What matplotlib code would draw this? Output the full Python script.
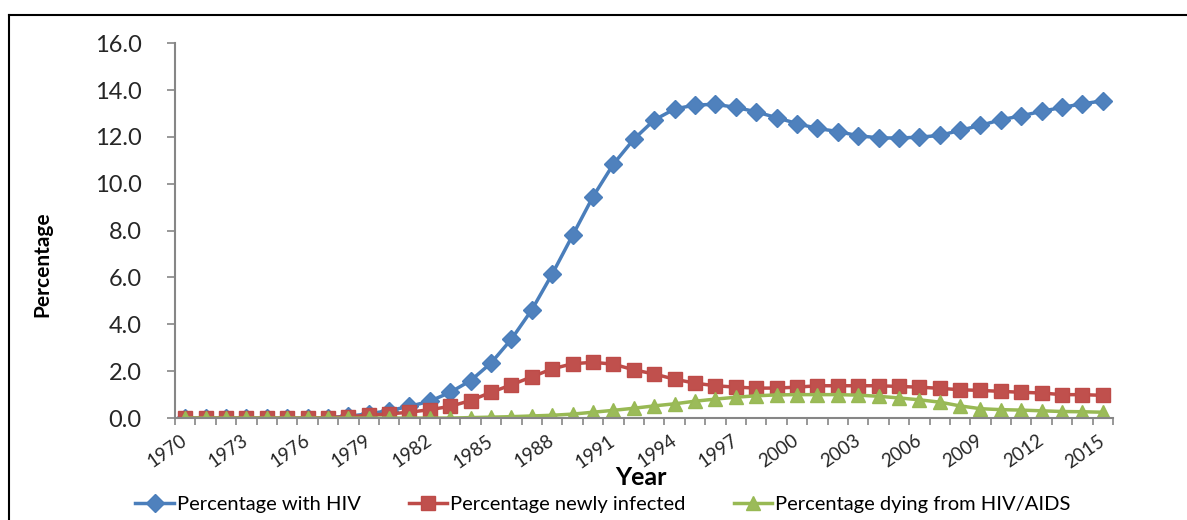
import numpy as np
import matplotlib
matplotlib.use("Agg")
import matplotlib.pyplot as plt
from matplotlib.lines import Line2D

plt.rcParams['font.family'] = ['Lato', 'DejaVu Sans']

years = list(range(1970, 2016))

# percentage of population with HIV
hiv = [0.0, 0.0, 0.0, 0.0, 0.0, 0.0, 0.0, 0.02, 0.08, 0.18,
       0.32, 0.5, 0.72, 1.1, 1.6, 2.35, 3.37, 4.62, 6.15, 7.8,
       9.45, 10.84, 11.9, 12.72, 13.19, 13.36, 13.39, 13.26, 13.07, 12.82,
       12.57, 12.36, 12.23, 12.05, 11.96, 11.95, 11.99, 12.06, 12.28, 12.49,
       12.73, 12.9, 13.09, 13.26, 13.41, 13.54]

# percentage newly infected
new_inf = [0.0, 0.0, 0.0, 0.0, 0.0, 0.0, 0.0, 0.02, 0.06, 0.12,
           0.18, 0.25, 0.36, 0.5, 0.75, 1.1, 1.42, 1.76, 2.1, 2.32,
           2.38, 2.3, 2.06, 1.88, 1.66, 1.49, 1.38, 1.32, 1.28, 1.28,
           1.32, 1.38, 1.38, 1.38, 1.38, 1.35, 1.32, 1.27, 1.21, 1.18,
           1.14, 1.1, 1.07, 1.0, 1.0, 0.97]

# percentage dying from HIV/AIDS
dying = [0.0, 0.0, 0.0, 0.0, 0.0, 0.0, 0.0, 0.0, 0.0, 0.0,
         0.0, 0.0, 0.0, 0.0, 0.02, 0.04, 0.06, 0.09, 0.12, 0.17,
         0.25, 0.33, 0.42, 0.52, 0.61, 0.72, 0.81, 0.89, 0.95, 0.99,
         1.0, 1.0, 1.0, 0.98, 0.93, 0.86, 0.78, 0.68, 0.52, 0.4,
         0.36, 0.34, 0.31, 0.28, 0.27, 0.25]

yticks = np.arange(0, 16.1, 2)

fig = plt.figure(figsize=(11.87, 5.2), dpi=100)
ax = fig.add_axes([0.1474, 0.196, 0.7903, 0.721])

ax.plot(years, hiv, color='#4A7EBB', lw=2.5, marker='D', ms=9,
        mfc='#4F81BD', mec='#4A7EBB', label='Percentage with HIV')
ax.plot(years, new_inf, color='#BE4B48', lw=2.5, marker='s', ms=10,
        mfc='#C0504D', mec='#BE4B48', label='Percentage newly infected')
ax.plot(years, dying, color='#98B954', lw=2.5, marker='^', ms=10,
        mfc='#9BBB59', mec='#98B954', label='Percentage dying from HIV/AIDS')

ax.set_xlim(1969.5, 2015.5)
ax.set_ylim(0, 16)
ax.set_yticks(yticks)
ax.set_yticklabels([f'{v:.1f}' for v in yticks], fontsize=17, color='#262626')
ax.set_xticks(years[::3])
ax.set_xticklabels([str(y) for y in years[::3]], rotation=35, fontsize=13.5,
                   color='#262626', ha='right', va='center',
                   rotation_mode='anchor')
ax.set_xticks(np.arange(1969.5, 2016, 1), minor=True)
ax.tick_params(axis='x', which='major', length=0, pad=15)
ax.tick_params(axis='x', which='minor', length=5, color='#868686', width=1.2)
ax.tick_params(axis='y', length=6, color='#868686', width=1.2, pad=18)

for s in ['top', 'right']:
    ax.spines[s].set_visible(False)
for s in ['left', 'bottom']:
    ax.spines[s].set_color('#868686')
    ax.spines[s].set_linewidth(1.5)

ax.set_ylabel('Percentage', fontsize=15, fontweight='bold')
ax.yaxis.set_label_coords(-0.131, 0.41)
ax.set_xlabel('Year', fontsize=18, fontweight='bold', va='center')
ax.xaxis.set_label_coords(0.497, -0.158)

fig.legend(loc='center', bbox_to_anchor=(0.508, 0.03), ncol=3, frameon=False,
           fontsize=14.5, handlelength=1.9, columnspacing=2.4, handletextpad=0.15,
           borderpad=0)

# outer frame of the original picture
fig.add_artist(Line2D([0.008, 0.008], [0, 0.972], color='black', lw=1.5,
                      transform=fig.transFigure))
fig.add_artist(Line2D([0.008, 1.0], [0.972, 0.972], color='black', lw=1.5,
                      transform=fig.transFigure))

fig.savefig('out.png', dpi=100)
